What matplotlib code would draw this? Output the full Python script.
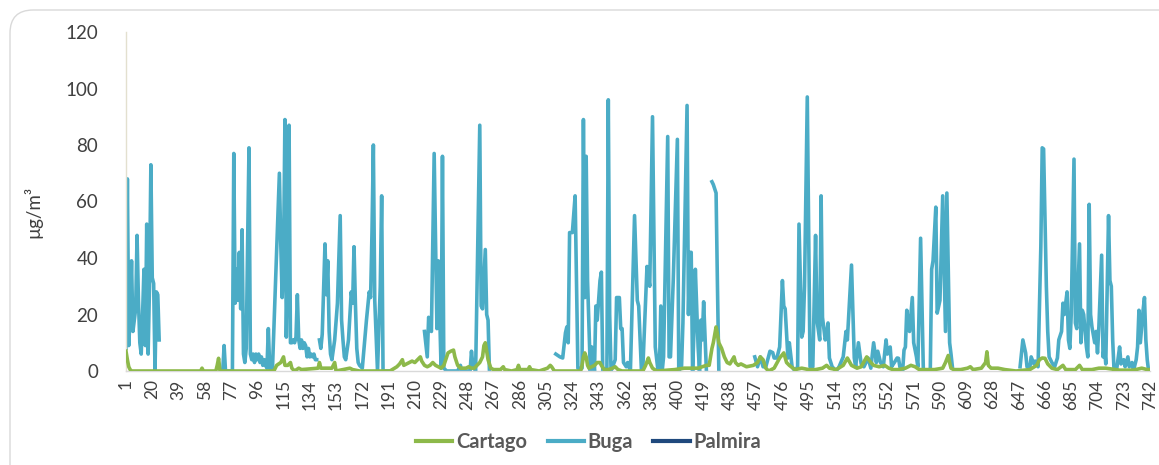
import numpy as np
import matplotlib
matplotlib.use("Agg")
import matplotlib.pyplot as plt
from matplotlib.patches import FancyBboxPatch

plt.rcParams['font.family'] = ['Lato', 'DejaVu Sans']

# ---------------- data ----------------
n_hours = 742
tick_labels = list(range(1, 743, 19))

cartago_hours = [1, 2, 3, 4, 5, 55, 56, 57, 66, 67, 68, 69, 108, 110, 113, 115, 116, 118, 120, 121, 123, 126, 128,
                 140, 141, 142, 145, 150, 152, 153, 163, 165, 170, 192, 197, 199, 201, 202, 204, 206, 208, 210, 212,
                 214, 215, 217, 219, 221, 223, 225, 227, 229, 231, 233, 234, 236, 238, 239, 241, 243, 245, 247, 249,
                 251, 253, 255, 257, 259, 260, 261, 262, 263, 265, 267, 272, 274, 275, 280, 284, 285, 286, 292, 293,
                 294, 300, 306, 308, 309, 311, 330, 331, 332, 333, 334, 335, 336, 338, 340, 342, 344, 345, 347, 350,
                 353, 355, 357, 360, 375, 377, 379, 380, 382, 385, 398, 405, 415, 421, 423, 425, 426, 428, 429, 430,
                 432, 434, 436, 438, 441, 442, 444, 446, 450, 455, 458, 460, 462, 464, 466, 470, 474, 477, 479, 481,
                 485, 490, 495, 500, 505, 508, 510, 515, 520, 523, 526, 530, 533, 537, 540, 542, 546, 550, 553, 556,
                 560, 565, 569, 572, 575, 580, 586, 592, 594, 596, 597, 598, 600, 605, 610, 612, 614, 620, 623, 624,
                 625, 627, 632, 637, 645, 655, 660, 662, 664, 666, 668, 671, 675, 679, 681, 688, 691, 693, 700, 705,
                 710, 720, 730, 736, 740, 742]
cartago_values = [7, 4, 1.5, 0.5, 0, 0, 1, 0, 0, 2, 4.5, 0, 0, 2, 3, 5, 2, 2, 3, 1, 0, 1, 0.5,
                  1, 3, 1, 1, 1, 3, 0, 1, 0.5, 0, 0, 1.5, 2.5, 4, 2, 2.5, 3, 3.5, 3, 4,
                  5, 3.5, 2, 1.5, 2, 3, 2, 1.5, 1, 2, 5, 6.4, 7, 7.4, 5, 2, 1, 1, 1, 1.5,
                  1, 1, 2, 3, 5, 9, 10, 7, 4, 1, 0.5, 0.5, 1.5, 0.5, 0, 0.5, 2, 0.5, 0.5, 1.5,
                  0.5, 0, 1, 2, 1.5, 0, 0, 2, 5, 6.4, 5, 2, 1, 1.5, 2, 3, 3, 2, 0.5, 0.5,
                  1, 1.5, 0.5, 0, 0, 2, 4.6, 3, 1, 0, 0.5, 1, 1, 2, 2, 8, 10, 15.6, 13, 10,
                  8, 5, 3, 2.5, 5, 3, 2, 2.5, 1.5, 2, 3, 5, 4, 1, 0, 1, 4.6, 6.4, 3, 2,
                  0.5, 1, 0.5, 0.5, 1, 2, 1, 0.5, 2, 4.6, 2, 1, 1.5, 5, 3, 2, 1.5, 2, 1, 0.5,
                  0.5, 1, 2, 1.5, 0.5, 0.5, 0.5, 1, 3, 5.5, 3, 1, 0.5, 0.5, 1, 1.5, 0.5, 1, 3, 6.8,
                  2, 1, 1, 0.5, 0, 0.5, 2, 4, 4.6, 4.5, 2.5, 1, 0.5, 2, 0.5, 0.5, 2, 0.5, 0.5, 1,
                  1, 0.3, 0.3, 1, 0.5, 0.5]

# None marks a gap (no data)
buga_hours = [1, 2, 3, 4, 5, 6, 7, 8, 9, 10, 11, 12, 13, 14, 15, 16, 17, 18, 19, 20, 21, 22, 23, 24, 25,
              40,
              71, 72, 73, 78, 79, 80, 81, 82, 83, 84, 85, 86, 87, 88, 89, 90, 91, 92, 93, 94, 95, 96, 97, 98,
              99, 100, 101, 102, 103, 104, 105, 106, 107, 112, 113, 114, 115, 116, 117, 118, 119, 120, 121, 122,
              123, 124, 125, 126, 127, 128, 129, 130, 131, 132, 133, 134, 135, 136, 137, 138, 139,
              140,
              141, 142, 143, 145, 146, 147, 148, 149, 150, 152, 154, 156, 157, 158, 159, 160, 162, 164, 165,
              166, 167, 168, 169, 170, 172, 175, 177, 178, 179, 180, 181, 183, 185, 186, 187, 192,
              200,
              217, 219, 220, 222, 224, 226, 227, 229, 230, 231, 233, 241, 242, 243, 244, 250, 251, 252, 254,
              257, 258, 259, 261, 262, 263, 264,
              290,
              312, 315, 317, 319, 320, 321, 322, 324, 326, 328, 331, 332, 333, 334, 335, 337, 338, 340, 341,
              342, 344, 345, 346, 349, 350, 351, 352, 355, 356, 358, 359, 360, 361, 363, 364, 366, 369, 371,
              372, 374, 375, 378, 380, 382, 384, 386, 387, 388, 389, 390, 393, 394, 395, 397, 400, 401, 403,
              404, 407, 408, 409, 410, 411, 412, 413, 415, 416, 417, 418, 419, 421,
              423,
              425, 426, 428, 429, 430,
              440,
              456, 458, 460, 462, 464, 467, 469, 470, 472, 474, 476, 477, 478, 480, 481, 483, 485, 487, 488,
              490, 491, 492, 494, 496, 498, 500, 501, 503, 504, 505, 507, 508, 509, 510, 512, 515, 517, 520,
              522, 523, 526, 528, 529, 531, 533, 535, 538, 540, 542, 544, 545, 547, 549, 551, 552, 554, 555,
              557, 559, 560, 561, 563, 564, 565, 566, 568, 570, 571, 573, 574, 576, 578, 583, 584, 585, 587,
              588, 590, 592, 594, 595, 597, 598, 599,
              620,
              648, 650, 652, 653, 655, 656, 658, 659, 661, 663, 664, 665, 667, 668, 669, 671, 673, 675, 676,
              678, 679, 680, 682, 683, 684, 685, 687, 688, 689, 691, 692, 693, 694, 696, 697, 698, 699, 700,
              702, 703, 704, 705, 707, 708, 709, 710, 712, 713, 714, 715, 716, 718, 720, 721, 723, 724, 726,
              727, 729, 730, 732, 733, 734, 735, 737, 738, 739, 740, 741]
buga_values = [8, 68, 9, 20, 39, 14, 18, 22, 48, 25, 10, 6, 20, 36, 9, 52, 6, 30, 73, 33, 31, 0, 28, 27, 11,
               None,
               0, 9, 0, 0, 77, 24, 36, 25, 42, 22, 50, 6, 3, 8, 45, 79, 6, 4, 6, 3, 6, 4, 6, 3,
               5, 2, 4, 2, 1, 15, 1, 0, 1, 70, 45, 26, 40, 89, 12, 40, 87, 10, 10, 11,
               10, 12, 27, 11, 8, 11, 8, 10, 9, 5, 8, 5, 6, 5, 6, 4, 4,
               None,
               11, 8, 13, 45, 27, 39, 14, 6, 4, 11, 24, 55, 18, 11, 5, 4, 11, 28, 24,
               44, 24, 8, 3, 2, 1, 18, 28, 26, 49, 80, 25, 0, 30, 62, 0, 0,
               None,
               14, 5, 19, 14, 77, 15, 39, 1, 76, 1, 0, 0, 1, 2, 0, 0, 7, 2, 0,
               87, 23, 22, 43, 20, 18, 0,
               None,
               6, 5, 4.6, 13.5, 15.6, 10, 49, 49, 62, 1, 1, 89, 26, 76, 32, 0, 8.5, 0, 23,
               18, 32, 35, 0, 1, 96, 20, 0, 4, 26, 26, 15, 15, 3, 1.5, 3, 0, 55, 25,
               23, 0, 1, 37, 30, 90, 8.5, 0, 0, 23, 0, 5, 83, 5, 5, 32, 82, 0, 1.5,
               17, 94, 20, 42, 42, 0, 14, 36, 8.5, 0, 18, 11, 24.5, 0,
               None,
               67, 66, 63, 30, 0,
               None,
               5, 1.5, 5, 1.5, 1.5, 7, 6.5, 4.6, 4.6, 8.5, 32, 23, 22, 4.6, 10, 1.5, 0, 1.5, 52,
               12, 14, 30, 97, 1.5, 1.5, 48, 18, 11, 62, 19, 11, 13, 17, 4.6, 1.5, 0, 1.5, 5,
               14, 11, 37.5, 4.6, 1.5, 10, 2.5, 1.5, 4.6, 1, 10, 3, 7, 3, 1.5, 11, 6, 8.5, 1.5,
               3, 4.6, 4.5, 1.5, 0, 7.4, 8.5, 21.5, 14, 26, 10, 5, 1.5, 47, 0, 0, 36, 39, 58,
               20.5, 25, 62, 14, 63, 10, 6, 1.5,
               None,
               1.5, 11, 6.4, 1.5, 1, 5, 2.5, 3.5, 1.5, 44, 79, 78.6, 30, 14, 5, 3, 1.5, 4.6, 11,
               14, 24, 20, 28, 11, 8, 20, 75, 17, 15, 45, 10, 21.5, 20, 8.5, 5, 59, 20, 15.6,
               10, 14, 6.4, 15.6, 41, 5, 8.5, 2.5, 55, 32, 30, 11, 0, 1, 8.5, 2.5, 4, 1.5, 5,
               1.5, 3, 0, 4, 8.5, 21.5, 10, 21.5, 26, 11, 4, 0]

palmira_hours = []
palmira_values = []

series_names = ['Cartago', 'Buga', 'Palmira']
series_colors = ['#8DB94A', '#4BACC6', '#1F497D']

# ---------------- figure ----------------
W, H = 1159, 465
fig = plt.figure(figsize=(W / 100, H / 100), dpi=100)
fig.patch.set_facecolor('white')
border = FancyBboxPatch((10 / W, -0.05), 1.02, 1 - 10 / H + 0.05,
                        boxstyle='round,pad=0,rounding_size=0.02',
                        transform=fig.transFigure, facecolor='none',
                        edgecolor='#D9D9D9', linewidth=1.0, mutation_aspect=W / H)
fig.add_artist(border)

ax = fig.add_axes([126 / W, 1 - 371 / H, (1150 - 126) / W, (371 - 32) / H])

def to_float(vals):
    return np.array([np.nan if v is None else v for v in vals], dtype=float)

ax.plot(cartago_hours, to_float(cartago_values), color=series_colors[0], lw=2.6,
        label=series_names[0], solid_joinstyle='round', zorder=3)
ax.plot(buga_hours, to_float(buga_values), color=series_colors[1], lw=2.6,
        label=series_names[1], solid_joinstyle='round', zorder=2)
ax.plot(palmira_hours, to_float(palmira_values), color=series_colors[2], lw=2.6,
        label=series_names[2], zorder=1)

ax.set_xlim(1, n_hours)
ax.set_ylim(0, 120)
ax.set_yticks(range(0, 121, 20))
ax.set_xticks(tick_labels)
ax.set_xticklabels([str(t) for t in tick_labels], rotation=90)
ax.tick_params(axis='both', length=0, colors='#404040')
ax.tick_params(axis='y', pad=20, labelsize=13.5)
ax.tick_params(axis='x', pad=6, labelsize=12.5)

for s in ['top', 'right']:
    ax.spines[s].set_visible(False)
ax.spines['left'].set_color('#E3E0CF')
ax.spines['left'].set_linewidth(1.0)
ax.spines['bottom'].set_color('#D9D9D9')
ax.spines['bottom'].set_linewidth(1.0)

ax.set_ylabel('µg/m³', fontsize=13.5, color='#404040')
ax.yaxis.set_label_coords(-0.082, 0.47)

leg = fig.legend(loc='center', bbox_to_anchor=(0.508, 1 - 442 / H), ncol=3, frameon=False,
                 handlelength=1.8, handletextpad=0.2, columnspacing=1.0,
                 prop={'size': 14.5, 'weight': 'bold'})
for t in leg.get_texts():
    t.set_color('#595959')
for h in leg.legend_handles:
    h.set_linewidth(3)

fig.savefig('out.png', dpi=100, facecolor='white')
